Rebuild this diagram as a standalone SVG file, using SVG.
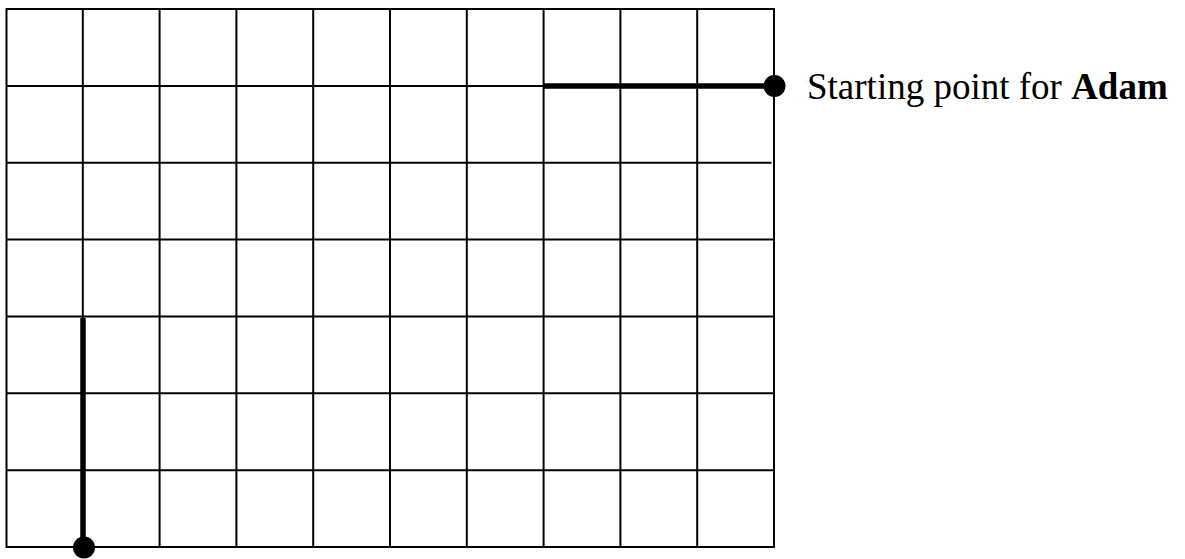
<svg xmlns="http://www.w3.org/2000/svg" width="1185" height="559" viewBox="0 0 1185 559">
  <style>
    .grid { stroke: #000; stroke-width: 2; fill: none; }
    .path { stroke: #000; stroke-width: 5.5; fill: none; }
    .dot { fill: #000; }
    .label { font-family: "Liberation Serif", "Times New Roman", serif; font-size: 37px; fill: #000; }
  </style>
  <rect width="1185" height="559" fill="#fff"/>
  <g id="grid" class="grid">
    <rect x="6.5" y="9" width="767.5" height="538"/>
    <line x1="82.8" y1="9" x2="82.8" y2="547"/>
    <line x1="159.6" y1="9" x2="159.6" y2="547"/>
    <line x1="236.4" y1="9" x2="236.4" y2="547"/>
    <line x1="313.2" y1="9" x2="313.2" y2="547"/>
    <line x1="390" y1="9" x2="390" y2="547"/>
    <line x1="466.8" y1="9" x2="466.8" y2="547"/>
    <line x1="543.6" y1="9" x2="543.6" y2="547"/>
    <line x1="620.4" y1="9" x2="620.4" y2="547"/>
    <line x1="697.2" y1="9" x2="697.2" y2="547"/>
    <line x1="6.5" y1="85.9" x2="774" y2="85.9"/>
    <line x1="6.5" y1="162.7" x2="771.5" y2="162.7"/>
    <line x1="6.5" y1="239.6" x2="774" y2="239.6"/>
    <line x1="6.5" y1="316.4" x2="774" y2="316.4"/>
    <line x1="6.5" y1="393.3" x2="774" y2="393.3"/>
    <line x1="6.5" y1="470.2" x2="774" y2="470.2"/>
  </g>
  <g id="connectors">
    <line class="path" x1="544" y1="85.9" x2="774" y2="85.9"/>
    <line class="path" x1="83" y1="318" x2="83" y2="547"/>
  </g>
  <g id="start-adam">
    <circle class="dot" cx="774.5" cy="86" r="11"/>
    <text class="label" x="807" y="99">Starting point for <tspan font-weight="bold">Adam</tspan></text>
  </g>
  <g id="start-other">
    <circle class="dot" cx="84" cy="547.5" r="11"/>
  </g>
</svg>
